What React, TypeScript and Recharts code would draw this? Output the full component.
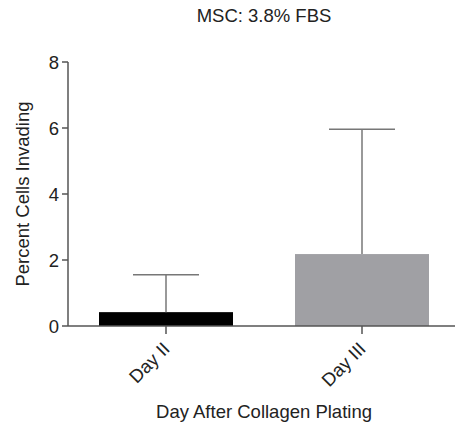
import { BarChart, Bar, XAxis, YAxis, Cell, Label } from "recharts";

const days = ["Day II", "Day III"];
const means = [0.42, 2.18];
const sds = [1.13, 3.78];
const barColors = ["#000000", "#a0a0a4"];
const yTicks = [0, 2, 4, 6, 8];

const data = days.map((day, i) => ({ day, value: means[i], sd: sds[i] }));

const font = "'Liberation Sans', Arial, sans-serif";
const fs = 18.5;

// bar plus an upward-only error whisker
function BarWithError(props: any) {
  const { x, y, width, height, fill, payload } = props;
  const pxPerUnit = payload.value ? height / payload.value : 0;
  const top = y - payload.sd * pxPerUnit;
  const cx = x + width / 2;
  return (
    <g>
      <rect x={x} y={y} width={width} height={height} fill={fill} />
      <line x1={cx} y1={y} x2={cx} y2={top} stroke="#777" strokeWidth={1.5} />
      <line x1={cx - 33} y1={top} x2={cx + 33} y2={top} stroke="#777" strokeWidth={1.5} />
    </g>
  );
}

function DayTick(props: any) {
  const { x, y, payload } = props;
  return (
    <text
      x={x + 5}
      y={y + 14}
      textAnchor="end"
      transform={`rotate(-45, ${x + 5}, ${y + 14})`}
      fontSize={fs}
      fontFamily={font}
      fill="#222"
    >
      {payload.value}
    </text>
  );
}

export default function App() {
  return (
    <div style={{ position: "absolute", top: 0, left: 0, width: 455, height: 424, overflow: "hidden", background: "#fff" }}>
      <div
        style={{
          position: "absolute",
          top: 5,
          left: 144,
          width: 240,
          textAlign: "center",
          fontFamily: font,
          fontSize: fs,
          color: "#222",
        }}
      >
        MSC: 3.8% FBS
      </div>
      <BarChart
        width={460}
        height={424}
        data={data}
        margin={{ top: 62, right: 0, bottom: 0, left: 0 }}
        barSize={134}
        style={{ overflow: "visible" }}
      >
        <XAxis
          dataKey="day"
          height={98}
          tick={<DayTick />}
          tickSize={8}
          stroke="#555"
          axisLine={{ stroke: "#555", strokeWidth: 1.5 }}
          tickLine={{ stroke: "#555", strokeWidth: 1.5 }}
        >
          <Label
            value="Day After Collagen Plating"
            position="insideBottom"
            offset={6}
            style={{ fontSize: fs, fontFamily: font, fill: "#222" }}
          />
        </XAxis>
        <YAxis
          width={68}
          domain={[0, 8]}
          ticks={yTicks}
          tickSize={6}
          tickMargin={3}
          stroke="#555"
          axisLine={{ stroke: "#555", strokeWidth: 1.5 }}
          tickLine={{ stroke: "#555", strokeWidth: 1.5 }}
          tick={{ fontSize: fs, fontFamily: font, fill: "#222" }}
        >
          <Label
            value="Percent Cells Invading"
            angle={-90}
            position="insideLeft"
            offset={22}
            style={{ fontSize: fs, fontFamily: font, fill: "#222", textAnchor: "middle" }}
          />
        </YAxis>
        <Bar dataKey="value" shape={<BarWithError />} isAnimationActive={false}>
          {data.map((d, i) => (
            <Cell key={d.day} fill={barColors[i]} />
          ))}
        </Bar>
      </BarChart>
    </div>
  );
}
